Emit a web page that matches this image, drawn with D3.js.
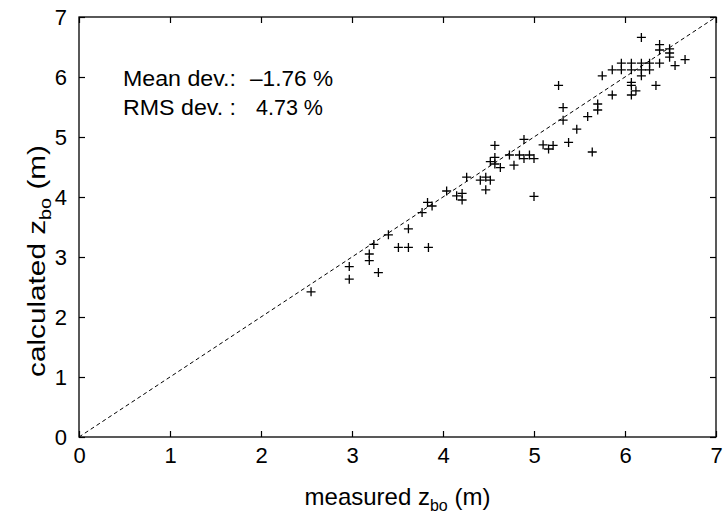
<!DOCTYPE html>
<html>
<head>
<meta charset="utf-8">
<script src="https://d3js.org/d3.v7.min.js"></script>
<style>
  body { margin: 0; background: #fff; }
  svg { display: block; }
  text { font-family: "Liberation Sans", Arial, Helvetica, sans-serif; fill: #000; }
</style>
</head>
<body>
<svg id="chart" width="726" height="523"></svg>
<script>
// ---- data ----
const measured = [
  2.55, 2.97, 2.97, 3.19, 3.19, 3.24, 3.29, 3.40, 3.51, 3.62, 3.62, 3.84,
  3.77, 3.83, 3.88, 4.04, 4.15, 4.21, 4.21, 4.26, 4.41, 4.47, 4.47, 4.52,
  4.52, 4.57, 4.57, 4.57, 4.63, 4.73, 4.78, 4.84, 4.89, 4.89, 4.95, 5.00,
  5.00, 5.10, 5.16, 5.21, 5.27, 5.32, 5.32, 5.38, 5.47, 5.59, 5.64, 5.70,
  5.70, 5.75, 5.86, 5.86, 5.96, 5.96, 6.07, 6.07, 6.07, 6.07, 6.07, 6.12,
  6.18, 6.18, 6.18, 6.18, 6.27, 6.27, 6.34, 6.38, 6.38, 6.38, 6.49, 6.49,
  6.49, 6.55, 6.66
];
const calculated = [
  2.42, 2.84, 2.63, 3.05, 2.94, 3.21, 2.74, 3.37, 3.16, 3.16, 3.47, 3.16,
  3.74, 3.91, 3.85, 4.10, 4.02, 4.06, 3.95, 4.33, 4.28, 4.33, 4.12, 4.28,
  4.59, 4.66, 4.86, 4.55, 4.49, 4.70, 4.53, 4.70, 4.96, 4.64, 4.70, 4.64,
  4.01, 4.87, 4.80, 4.86, 5.86, 5.49, 5.28, 4.91, 5.13, 5.34, 4.75, 5.55,
  5.45, 6.02, 6.12, 5.70, 6.23, 6.12, 6.23, 6.12, 5.91, 5.86, 5.70, 5.77,
  6.23, 6.12, 6.02, 6.66, 6.23, 6.12, 5.86, 6.54, 6.45, 6.23, 6.47, 6.40,
  6.33, 6.19, 6.29
];
const xTicks = [0, 1, 2, 3, 4, 5, 6, 7];
const yTicks = [0, 1, 2, 3, 4, 5, 6, 7];
const statLabels = ["Mean dev.:", "RMS dev. :"];
const statValues = ["\u20131.76 %", "4.73 %"];

// ---- layout ----
const svg = d3.select("#chart");
const L = 79, R = 716, T = 17, B = 437;
const x = d3.scaleLinear().domain([0, 7]).range([L, R]);
const y = d3.scaleLinear().domain([0, 7]).range([B, T]);

// axes with inward ticks
const tick = 6;
const gB = svg.append("g").attr("transform", `translate(0,${B})`)
  .call(d3.axisBottom(x).tickValues(xTicks).tickSizeInner(-tick).tickSizeOuter(0).tickPadding(10).tickFormat(d3.format("d")));
const gL = svg.append("g").attr("transform", `translate(${L},0)`)
  .call(d3.axisLeft(y).tickValues(yTicks).tickSizeInner(-tick).tickSizeOuter(0).tickPadding(12).tickFormat(d3.format("d")));
const gT = svg.append("g").attr("transform", `translate(0,${T})`)
  .call(d3.axisTop(x).tickValues(xTicks).tickSizeInner(-tick).tickSizeOuter(0).tickFormat(""));
const gR = svg.append("g").attr("transform", `translate(${R},0)`)
  .call(d3.axisRight(y).tickValues(yTicks).tickSizeInner(-tick).tickSizeOuter(0).tickFormat(""));

[gB, gL, gT, gR].forEach(g => {
  g.select(".domain").remove();
  g.selectAll(".tick line").attr("stroke", "#000").attr("stroke-width", 1.2);
  g.selectAll("text").style("font-size", "22px").attr("font-family", null).attr("fill", "#000");
});

// frame
svg.append("rect").attr("x", L).attr("y", T).attr("width", R - L).attr("height", B - T)
  .attr("fill", "none").attr("stroke", "#000").attr("stroke-width", 1.3);

// 1:1 dashed line
svg.append("line")
  .attr("x1", x(0)).attr("y1", y(0)).attr("x2", x(7)).attr("y2", y(7))
  .attr("stroke", "#000").attr("stroke-width", 1).attr("stroke-dasharray", "4,3");

// points as plus markers
const h = 4.5;
svg.append("g").selectAll("path").data(measured.map((m, i) => [m, calculated[i]]))
  .join("path")
  .attr("d", d => {
    const px = x(d[0]), py = y(d[1]);
    return `M${px - h},${py}H${px + h}M${px},${py - h}V${py + h}`;
  })
  .attr("stroke", "#000").attr("stroke-width", 1.3).attr("fill", "none");

// axis titles
const xt = svg.append("text").attr("x", (L + R) / 2).attr("y", 505).attr("text-anchor", "middle").style("font-size", "24px");
xt.append("tspan").text("measured z");
xt.append("tspan").attr("dy", 6).style("font-size", "16px").text("bo");
xt.append("tspan").attr("dy", -6).text(" (m)");

const yt = svg.append("text").attr("transform", "translate(45,261) rotate(-90) scale(1.24,1)").attr("text-anchor", "middle").style("font-size", "24px");
yt.append("tspan").text("calculated z");
yt.append("tspan").attr("dy", 6).style("font-size", "16px").text("bo");
yt.append("tspan").attr("dy", -6).text(" (m)");

// statistics annotation
const baselines = [86, 115];
const labelLen = [113, 113];
const valueX = [250, 256];
const valueLen = [83, 67];
statLabels.forEach((s, i) => {
  svg.append("text").attr("x", 123).attr("y", baselines[i]).style("font-size", "22px")
    .attr("textLength", labelLen[i]).attr("lengthAdjust", "spacingAndGlyphs").text(s);
  svg.append("text").attr("x", valueX[i]).attr("y", baselines[i]).style("font-size", "22px")
    .attr("textLength", valueLen[i]).attr("lengthAdjust", "spacingAndGlyphs").text(statValues[i]);
});
</script>
</body>
</html>
